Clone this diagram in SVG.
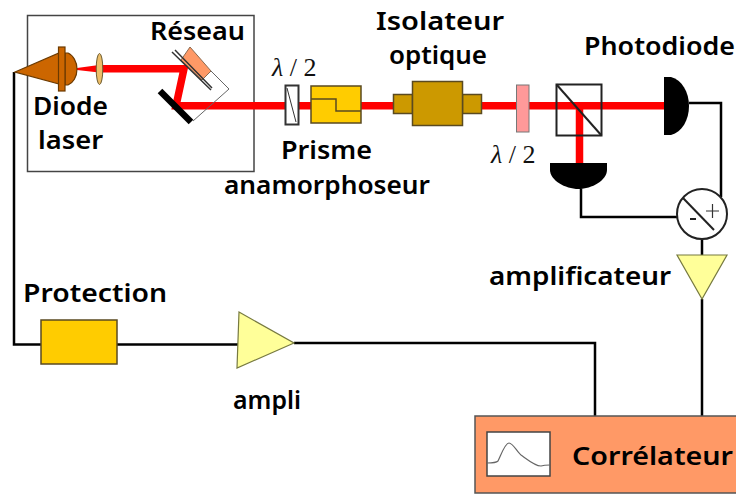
<svg xmlns="http://www.w3.org/2000/svg" width="736" height="495" viewBox="0 0 736 495">
<style>
.t{font-family:"Noto Sans","DejaVu Sans",sans-serif;font-size:26px;font-weight:600;fill:#000}
.l{font-family:"Liberation Serif",serif;font-size:26px;fill:#111}
.w{fill:none;stroke:#000;stroke-width:2.5}
.b{fill:none;stroke:#f00;stroke-width:7.500}
.o{stroke:#5a4a20;stroke-width:1.500}
</style>
<rect width="736" height="495" fill="#fff"/>
<g id="frame"><rect x="27.500" y="15.500" width="226.500" height="156" fill="#fff" stroke="#444" stroke-width="1.500"/></g>
<g id="connectors">
<path class="w" d="M14 72V344.500H238M294 343H595V416M689 103H721V197M581 189V217H677M702 236V255M702 299V416"/>
</g>
<g id="beams">
<path d="M77 68L99 65V72.500L77 70Z" fill="#f00"/>
<path class="b" d="M99 68.700H184L176 105.700H665"/>
<path class="b" d="M579.500 105V163"/>
</g>
<g id="diode-laser">
<path d="M15 72L59 53V84Z" fill="#cc6600" stroke="#6b3a00" stroke-width="1.200"/>
<path d="M65 53H68C73 55 77 62 77 69C77 77 73 83 68 85H65Z" fill="#cc6600" stroke="#6b3a00" stroke-width="1.200"/>
<rect x="58.500" y="47" width="6.500" height="44" fill="#cc6600" stroke="#6b3a00" stroke-width="1.200"/>
<text class="t" x="33" y="115" textLength="75" lengthAdjust="spacingAndGlyphs">Diode</text>
<text class="t" x="38" y="149" textLength="65" lengthAdjust="spacingAndGlyphs">laser</text>
</g>
<g id="lentille"><ellipse cx="99.500" cy="69" rx="3.300" ry="15.500" fill="#edbe68" stroke="#6b5a30" stroke-width="1"/></g>
<g id="reseau">
<path d="M211 71L229 89L193 121" fill="none" stroke="#666" stroke-width="1"/>
<path d="M190 47L211 71L202 80L181 60Z" fill="#ff9966" stroke="#8a6a50" stroke-width="1"/>
<path d="M172 52L211 90M175 50L212 88" fill="none" stroke="#333" stroke-width="1.500"/>
<path d="M160 91L191 122" fill="none" stroke="#000" stroke-width="6.500"/>
<text class="t" x="150" y="40" textLength="95" lengthAdjust="spacingAndGlyphs">Réseau</text>
</g>
<g id="lame-1">
<rect x="285.500" y="85.500" width="13" height="39" fill="#fff" stroke="#333" stroke-width="2"/>
<path d="M287 88L296 122" stroke="#333" stroke-width="1"/>
<text class="l" x="272" y="76"><tspan font-style="italic">λ</tspan> / 2</text>
</g>
<g id="prisme">
<rect class="o" x="311" y="86" width="50" height="37" fill="#ffcc00"/>
<path d="M311 99H336V111H361" fill="none" stroke="#5a4a20" stroke-width="1.500"/>
<text class="t" x="281" y="159" textLength="91" lengthAdjust="spacingAndGlyphs">Prisme</text>
<text class="t" x="224" y="194" textLength="206" lengthAdjust="spacingAndGlyphs">anamorphoseur</text>
</g>
<g id="isolateur">
<rect class="o" x="393.500" y="94.500" width="19" height="19" fill="#cc9900"/>
<rect class="o" x="462.500" y="94.500" width="19" height="19" fill="#cc9900"/>
<rect class="o" x="412.500" y="81.500" width="50" height="44" fill="#cc9900"/>
<text class="t" x="376" y="30" textLength="128" lengthAdjust="spacingAndGlyphs">Isolateur</text>
<text class="t" x="389" y="64" textLength="98" lengthAdjust="spacingAndGlyphs">optique</text>
</g>
<g id="lame-2">
<rect x="516.500" y="85" width="12.500" height="47" fill="#ff9999" stroke="#777" stroke-width="1"/>
<text class="l" x="491" y="163"><tspan font-style="italic">λ</tspan> / 2</text>
</g>
<g id="cube">
<rect x="556.500" y="84.500" width="45" height="51" fill="none" stroke="#222" stroke-width="2"/>
<path d="M556.500 84.500L601.500 135.500" stroke="#222" stroke-width="2"/>
</g>
<g id="photodiode-1">
<path d="M664 77H671C682 80 689 92 689 106C689 120 682 132 671 135H664Z" fill="#000"/>
<text class="t" x="584" y="55" textLength="151" lengthAdjust="spacingAndGlyphs">Photodiode</text>
</g>
<g id="photodiode-2"><path d="M550 163H607V170C607 180 592 189 578.500 189C565 189 550 180 550 170Z" fill="#000"/></g>
<g id="soustracteur">
<circle cx="702" cy="214" r="25" fill="#fff" stroke="#222" stroke-width="2"/>
<path d="M683 198L714 230" stroke="#222" stroke-width="2"/>
<path d="M706 211H719M712.500 204V218" stroke="#333" stroke-width="1.200"/>
<path d="M690 219H696" stroke="#222" stroke-width="2"/>
</g>
<g id="amplificateur">
<path d="M677 255H727L702 299Z" fill="#ffff99" stroke="#777a40" stroke-width="1.200"/>
<text class="t" x="489" y="285" textLength="182" lengthAdjust="spacingAndGlyphs">amplificateur</text>
</g>
<g id="protection">
<rect class="o" x="41" y="320" width="76" height="44" fill="#ffcc00"/>
<text class="t" x="23" y="302" textLength="144" lengthAdjust="spacingAndGlyphs">Protection</text>
</g>
<g id="ampli">
<path d="M239 312L294 343L237 368Z" fill="#ffff99" stroke="#777a40" stroke-width="1.200"/>
<text class="t" x="233" y="409" textLength="68" lengthAdjust="spacingAndGlyphs">ampli</text>
</g>
<g id="correlateur">
<rect x="475" y="416" width="262" height="77" fill="#ff9966" stroke="#555" stroke-width="1.500"/>
<rect x="487" y="432" width="63" height="44" fill="#fff" stroke="#444" stroke-width="1.500"/>
<path d="M487 463C492 463 496 463 498 461C501 455 505 443 509 443C513 443 517 452 521 455C528 460 535 466 541 466C544 465 547 465 550 465" fill="none" stroke="#666" stroke-width="1.200"/>
<text class="t" x="572" y="465" textLength="161" lengthAdjust="spacingAndGlyphs">Corrélateur</text>
</g>
</svg>
